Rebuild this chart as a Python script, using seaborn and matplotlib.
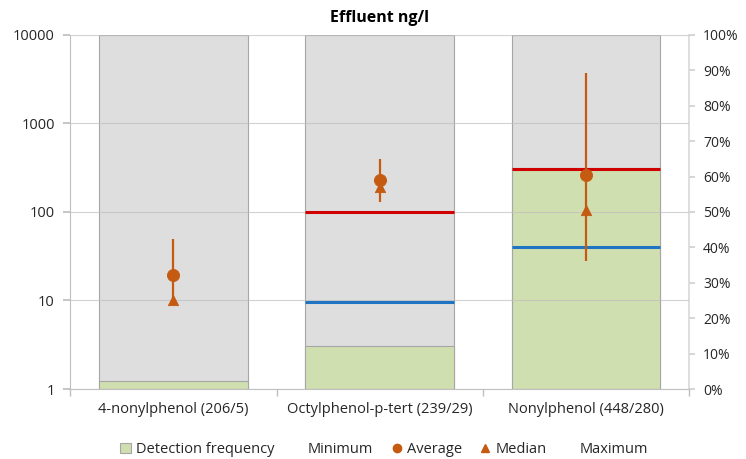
import numpy as np
import matplotlib.pyplot as plt
import seaborn as sns
from matplotlib.patches import Patch
from matplotlib.lines import Line2D

# ===== data =====
compounds = ['4-nonylphenol (206/5)', 'Octylphenol-p-tert (239/29)', 'Nonylphenol (448/280)']
detection_pct = [2.4, 12.1, 62.5]          # right axis, %
minimum = [10, 131, 28]                    # ng/l
average = [19.5, 230, 262]
median = [10, 192, 106]
maximum = [50, 395, 3700]
red_limit = [np.nan, 100, 305]
blue_limit = [np.nan, 9.6, 40]
left_ticks = [1, 10, 100, 1000, 10000]
right_ticks = list(range(0, 101, 10))

sns.set_theme(style='white')
plt.rcParams['font.family'] = ['Open Sans', 'DejaVu Sans']

orange = '#c55a11'
green = '#d0dfb0'
grey = '#dedede'

fig, ax = plt.subplots(figsize=(7.46, 4.59), dpi=100)
fig.subplots_adjust(left=0.094, right=0.924, top=0.924, bottom=0.1525)
ax2 = ax.twinx()

# bars on percent axis (background)
bw = 0.72
sns.barplot(x=compounds, y=[100] * len(compounds), ax=ax2, color=grey,
            width=bw, edgecolor='#a6a6a6', linewidth=0.8, saturation=1)
sns.barplot(x=compounds, y=detection_pct, ax=ax2, color=green,
            width=bw, edgecolor='#a6a6a6', linewidth=0.8, saturation=1)

ax.set_zorder(ax2.get_zorder() + 1)
ax.patch.set_visible(False)

pos = np.arange(len(compounds))
ax.set_yscale('log')
ax.set_ylim(1, 10000)
ax.set_xlim(-0.5, len(compounds) - 0.5)

# limit lines
ax.hlines(red_limit, pos - bw / 2, pos + bw / 2, color='#d00000', lw=2.2, zorder=3)
ax.hlines(blue_limit, pos - bw / 2, pos + bw / 2, color='#1f74c4', lw=2.2, zorder=3)

# min-max ranges with average and median
ax.vlines(pos, minimum, maximum, color=orange, lw=1.6, zorder=4)
sns.scatterplot(x=pos, y=average, ax=ax, marker='o', color=orange, s=75,
                edgecolor=orange, zorder=5, legend=False)
sns.scatterplot(x=pos, y=median, ax=ax, marker='^', color=orange, s=55,
                edgecolor=orange, zorder=5, legend=False)

# left axis
ax.set_yticks(left_ticks, labels=[str(t) for t in left_ticks])
ax.yaxis.set_minor_locator(plt.NullLocator())
ax.grid(axis='y', color='#bfbfbf', lw=0.8, alpha=0.7)
ax.tick_params(axis='y', which='major', length=5, color='#bfbfbf', labelsize=10.5,
               labelcolor='#262626', pad=6)

# x axis: labels at centres, ticks at boundaries
ax.set_xticks(pos, labels=compounds)
ax.set_xticks(np.arange(len(compounds) + 1) - 0.5, minor=True)
ax.tick_params(axis='x', which='major', length=0, labelsize=10.5, labelcolor='#262626', pad=9)
ax.tick_params(axis='x', which='minor', length=5, color='#bfbfbf', bottom=True)
ax.set_xlabel('')
ax.set_ylabel('')

# right axis
ax2.set_ylim(0, 100)
ax2.set_yticks(right_ticks, labels=[f'{t}%' for t in right_ticks])
ax2.tick_params(axis='y', length=4, color='#d0d0d0', labelsize=10, labelcolor='#262626', pad=6,
                right=True)
ax2.set_ylabel('')

for a in (ax, ax2):
    a.spines['top'].set_visible(False)
ax.spines['right'].set_visible(False)
ax2.spines['left'].set_visible(False)
ax2.spines['bottom'].set_visible(False)
ax.spines['left'].set_color('#bfbfbf')
ax.spines['bottom'].set_color('#bfbfbf')
ax2.spines['right'].set_color('#d9d9d9')
for s in ('left', 'bottom'):
    ax.spines[s].set_linewidth(0.8)

ax.set_title('Effluent ng/l', fontsize=11.5, fontweight='bold', color='black', pad=9)

handles = [
    Patch(facecolor=green, edgecolor='#a6a6a6', linewidth=0.8),
    Line2D([], [], linestyle='none'),
    Line2D([], [], linestyle='none', marker='o', color=orange, markersize=6),
    Line2D([], [], linestyle='none', marker='^', color=orange, markersize=6),
    Line2D([], [], linestyle='none'),
]
labels = ['Detection frequency', 'Minimum', 'Average', 'Median', 'Maximum']
fig.legend(handles, labels, loc='lower center', bbox_to_anchor=(0.515, -0.025), ncol=5,
           frameon=False, fontsize=10.5, handlelength=0.8, handletextpad=0.3,
           columnspacing=1.2, labelcolor='#262626')

fig.savefig('out.png', dpi=100)
